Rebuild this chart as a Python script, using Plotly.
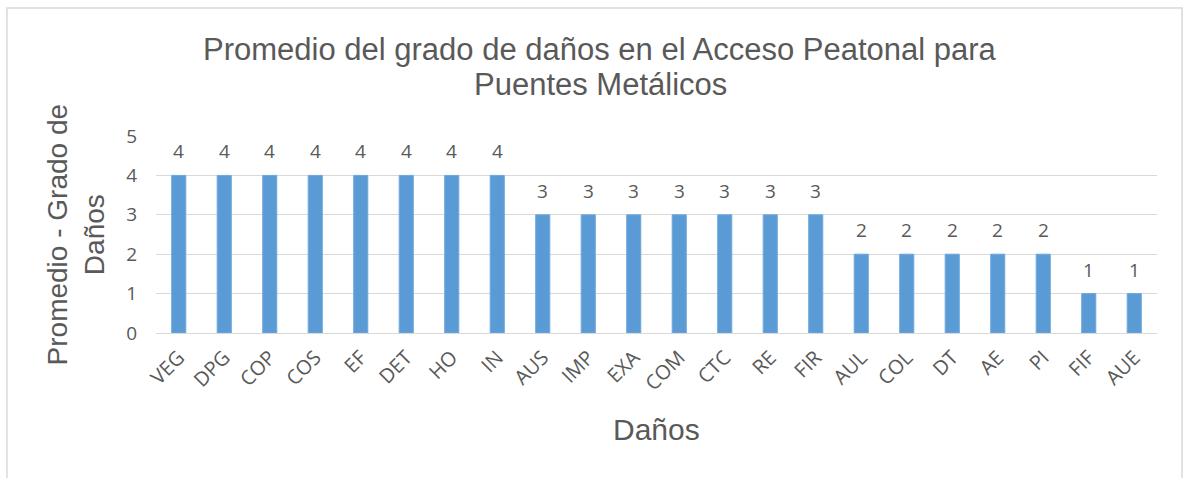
import plotly.graph_objects as go

categories = ["VEG", "DPG", "COP", "COS", "EF", "DET", "HO", "IN", "AUS", "IMP", "EXA",
              "COM", "CTC", "RE", "FIR", "AUL", "COL", "DT", "AE", "PI", "FIF", "AUE"]
values = [4, 4, 4, 4, 4, 4, 4, 4, 3, 3, 3, 3, 3, 3, 3, 2, 2, 2, 2, 2, 1, 1]
y_ticks = [0, 1, 2, 3, 4, 5]
title_lines = ["Promedio del grado de daños en el Acceso Peatonal para", "Puentes Metálicos"]

grey = "#595959"
tick_font = "Open Sans, sans-serif"
title_font = "Liberation Sans, Arial, sans-serif"

fig = go.Figure(go.Bar(
    x=categories, y=values,
    marker=dict(color="#5B9BD5", line=dict(color="#6FA8DC", width=1)),
    width=0.31,
    cliponaxis=False,
))

for c, v in zip(categories, values):
    fig.add_annotation(x=c, y=v, text=str(v), showarrow=False, yanchor="bottom",
                       yshift=9, font=dict(size=19, color=grey, family=tick_font))

# Title (two lines placed separately for tighter line spacing)
for line, ypos in zip(title_lines, [1.437, 1.259]):
    fig.add_annotation(xref="paper", yref="paper", x=0.4436, y=ypos, xanchor="center", yanchor="middle",
                       text=line, showarrow=False, font=dict(size=31, color=grey, family=title_font))
# Y axis title
fig.add_annotation(xref="paper", yref="paper", x=-0.08, y=0.5, xanchor="center", yanchor="middle",
                   text="Promedio - Grado de<br>Daños", textangle=-90,
                   showarrow=False, font=dict(size=28, color=grey, family=title_font))
# X axis title
fig.add_annotation(xref="paper", yref="paper", x=0.5, y=-0.492, xanchor="center", yanchor="middle",
                   text="Daños", showarrow=False, font=dict(size=30, color=grey, family=title_font))

fig.update_layout(
    width=1186, height=478,
    margin=dict(l=156, r=29, t=136, b=145),
    paper_bgcolor="white", plot_bgcolor="white",
    showlegend=False,
    font=dict(family=tick_font, color=grey),
    shapes=[dict(type="rect", xref="paper", yref="paper",
                 x0=-0.1489, x1=1.025, y0=-0.75, y1=1.65,
                 line=dict(color="#D9D9D9", width=1.5), layer="below")],
)

fig.update_yaxes(range=[0, 5], tickvals=y_ticks, showgrid=True, gridcolor="#D9D9D9", gridwidth=1,
                 zeroline=False, showline=False, ticks="", ticklabelstandoff=18,
                 tickfont=dict(size=19, color=grey))
fig.update_xaxes(showgrid=False, showline=True, linecolor="#D9D9D9", linewidth=1, ticks="",
                 tickangle=-45, tickfont=dict(size=20, color=grey), ticklabelstandoff=4)

fig.write_html("out.html")
